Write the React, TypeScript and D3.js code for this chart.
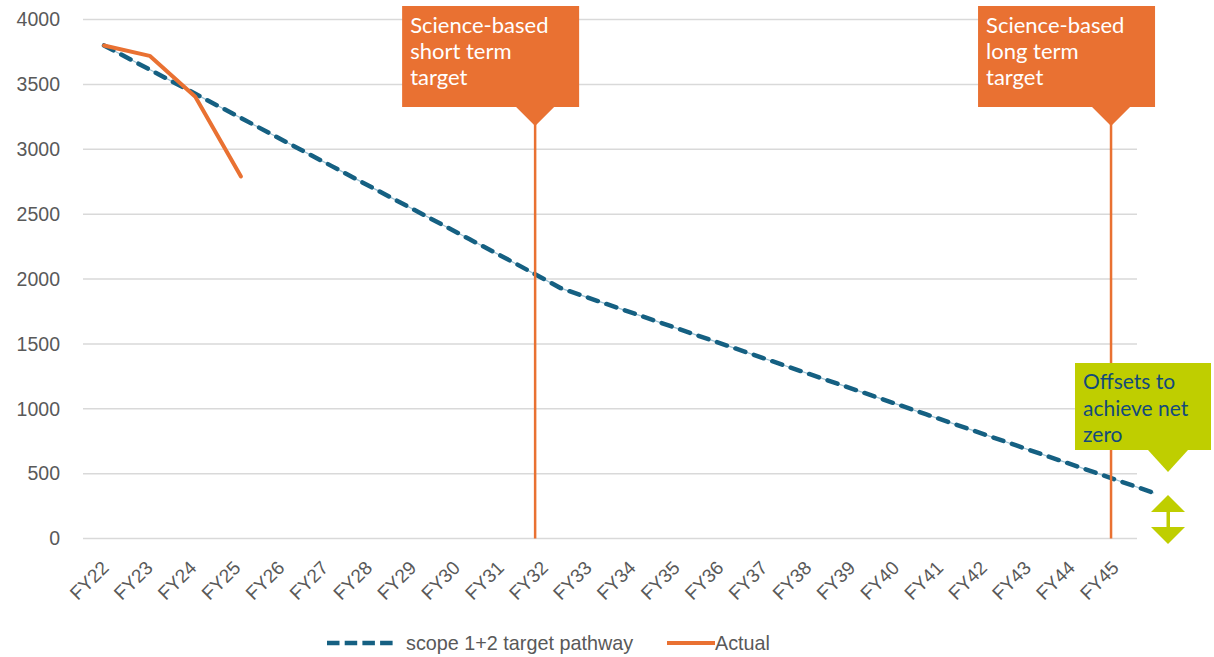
import React from "react";
import * as d3 from "d3";

const categories = ["FY22","FY23","FY24","FY25","FY26","FY27","FY28","FY29","FY30","FY31","FY32","FY33","FY34","FY35","FY36","FY37","FY38","FY39","FY40","FY41","FY42","FY43","FY44","FY45"];
const pathwayValues = [3800,3614,3427,3241,3054,2868,2681,2495,2308,2122,1930,1808,1687,1565,1444,1322,1201,1080,958,837,715,594,473,351];
const actualCategories = ["FY22","FY23","FY24","FY25"];
const actualValues = [3800,3720,3405,2790];
const yTicks = [0,500,1000,1500,2000,2500,3000,3500,4000];
const targetCallouts = [
  { cat: "FY32", lines: ["Science-based","short term","target"] },
  { cat: "FY45", lines: ["Science-based","long term","target"] },
];
const offsetLines = ["Offsets to","achieve net","zero"];
const legendItems = ["scope 1+2 target pathway","Actual"];

const BLUE = "#156082";
const ORANGE = "#E97132";
const LIME = "#BFCE00";
const NAVY = "#134A7C";
const GREY = "#595959";

export default function App() {
  const W = 1214, H = 657;
  const y = d3.scaleLinear().domain([0, 4000]).range([538.5, 19.5]);
  const xAxis = d3.scaleBand<string>().domain(categories).range([83, 1137]).paddingInner(0).paddingOuter(0);
  const xc = (c: string) => (xAxis(c) as number) + xAxis.bandwidth() / 2;
  const xs = d3.scalePoint<string>().domain(categories).range([104, 1154]);

  const line = d3.line<[string, number]>().x(d => xs(d[0]) as number).y(d => y(d[1]));
  const pathwayD = line(categories.map((c, i) => [c, pathwayValues[i]]))!;
  const actualD = line(actualCategories.map((c, i) => [c, actualValues[i]]))!;

  const calloutDx: Record<string, number> = { FY32: -9, FY45: -4 };
  const font = "'Liberation Sans', Arial, sans-serif";
  const calloutFont = "Lato, 'Open Sans', sans-serif";

  const endX = xs(categories[categories.length - 1]) as number;
  const ox = endX + 14; // offsets marker center

  return (
    <svg width={W} height={H} style={{ position: "absolute", left: 0, top: 0, display: "block", background: "#fff" }}>
      {yTicks.map(t => (
        <line key={t} x1={83} x2={1137} y1={y(t)} y2={y(t)} stroke="#D9D9D9" strokeWidth={1.5} />
      ))}
      {yTicks.map(t => (
        <text key={"yl" + t} x={60} y={y(t)} dy="0.35em" textAnchor="end" fontFamily={font} fontSize={19.5} fill={GREY}>{t}</text>
      ))}
      {categories.map(c => (
        <text key={c} transform={`translate(${xc(c) + 5},${569}) rotate(-45)`} textAnchor="end" fontFamily={font} fontSize={19} fill={GREY}>{c}</text>
      ))}
      <path d={pathwayD} fill="none" stroke="#9cc3d6" strokeWidth={1.2} />
      <path d={pathwayD} fill="none" stroke={BLUE} strokeWidth={4.5} strokeDasharray="10.5 9" strokeLinecap="round" />
      <path d={actualD} fill="none" stroke={ORANGE} strokeWidth={4} strokeLinejoin="round" strokeLinecap="round" />
      {targetCallouts.map(tc => {
        const ax = xc(tc.cat) + calloutDx[tc.cat];
        const rx = ax - 133, rw = 177, ry = 6, rh = 101;
        return (
          <g key={tc.cat}>
            <line x1={ax} x2={ax} y1={120} y2={y(0)} stroke={ORANGE} strokeWidth={2.5} />
            <rect x={rx} y={ry} width={rw} height={rh} fill={ORANGE} />
            <path d={`M${ax - 19},${ry + rh} L${ax + 19},${ry + rh} L${ax},${126} Z`} fill={ORANGE} />
            {tc.lines.map((l, i) => (
              <text key={i} x={rx + 8} y={33 + i * 26} fontFamily={calloutFont} fontSize={22} fill="#fff">{l}</text>
            ))}
          </g>
        );
      })}
      <g>
        <rect x={ox - 93} y={363} width={136} height={87} fill={LIME} />
        <path d={`M${ox - 20},450 L${ox + 20},450 L${ox},472 Z`} fill={LIME} />
        {offsetLines.map((l, i) => (
          <text key={i} x={ox - 85} y={389 + i * 26.5} fontFamily={calloutFont} fontSize={21} fill={NAVY}>{l}</text>
        ))}
        <path d={`M${ox},495 L${ox + 17},512 L${ox - 17},512 Z`} fill={LIME} />
        <rect x={ox - 1.5} y={511} width={3.5} height={17} fill={LIME} />
        <path d={`M${ox - 17},527 L${ox + 17},527 L${ox},544 Z`} fill={LIME} />
      </g>
      <g>
        <line x1={327} x2={393} y1={643} y2={643} stroke={BLUE} strokeWidth={4.5} strokeDasharray="12.5 5.2" />
        <text x={406} y={643} dy="0.35em" fontFamily={font} fontSize={19.8} fill={GREY}>{legendItems[0]}</text>
        <line x1={667} x2={715} y1={643} y2={643} stroke={ORANGE} strokeWidth={4} />
        <text x={715} y={643} dy="0.35em" fontFamily={font} fontSize={19.8} fill={GREY}>{legendItems[1]}</text>
      </g>
    </svg>
  );
}
